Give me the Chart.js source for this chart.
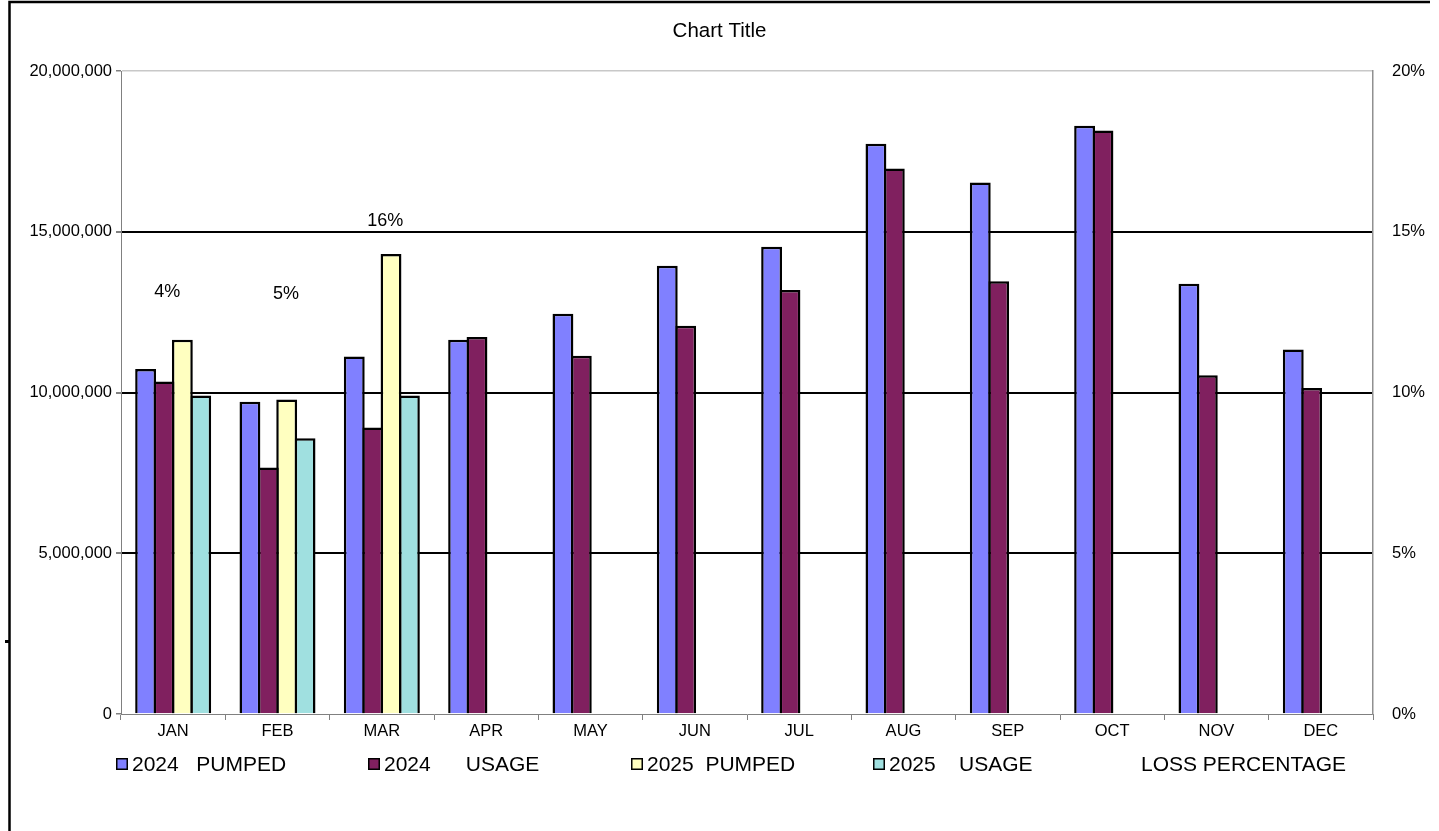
<!DOCTYPE html>
<html>
<head>
<meta charset="utf-8">
<title>Pumped vs Usage</title>
<script src="https://cdn.jsdelivr.net/npm/chart.js@4.4.1/dist/chart.umd.min.js"></script>
<style>
  html, body { margin: 0; padding: 0; background: #ffffff; }
  #wrap { width: 1439px; height: 831px; position: relative; }
</style>
</head>
<body>
<div id="wrap"><canvas id="c" width="1439" height="831"></canvas></div>
<script>
// Monthly volumes (gallons) and loss percentage labels
const months = ['JAN', 'FEB', 'MAR', 'APR', 'MAY', 'JUN', 'JUL', 'AUG', 'SEP', 'OCT', 'NOV', 'DEC'];
const pumped2024 = [10730000, 9710000, 11120000, 11640000, 12450000, 13940000, 14530000, 17740000, 16530000, 18300000, 13380000, 11340000];
const usage2024  = [10340000, 7670000, 8910000, 11730000, 11140000, 12080000, 13190000, 16970000, 13460000, 18150000, 10540000, 10140000];
const pumped2025 = [11640000, 9780000, 14310000, null, null, null, null, null, null, null, null, null];
const usage2025  = [9910000, 8580000, 9910000, null, null, null, null, null, null, null, null, null];
const lossPct    = [4, 5, 16, null, null, null, null, null, null, null, null, null];
const seriesNames = ['2024   PUMPED', '2024      USAGE', '2025  PUMPED', '2025    USAGE', 'LOSS PERCENTAGE'];

const FONT = '"Liberation Sans", Arial, Helvetica, sans-serif';
Chart.defaults.font.family = FONT;
Chart.defaults.color = '#000000';

// Frame around the whole chart object
const framePlugin = {
  id: 'frame',
  beforeDraw(chart) {
    const ctx = chart.ctx;
    ctx.save();
    ctx.fillStyle = '#ffffff';
    ctx.fillRect(0, 0, chart.width, chart.height);
    ctx.strokeStyle = '#000000';
    ctx.lineWidth = 2.5;
    ctx.beginPath();
    ctx.moveTo(9.5, chart.height);
    ctx.lineTo(9.5, 2);
    ctx.lineTo(1430, 2);
    ctx.stroke();
    ctx.fillStyle = '#000000';
    ctx.fillRect(5, 640, 4, 3);
    ctx.restore();
  }
};

// Title centred over the whole object
const titlePlugin = {
  id: 'topTitle',
  afterDraw(chart, args, opts) {
    const ctx = chart.ctx;
    ctx.save();
    ctx.font = opts.size + 'px ' + FONT;
    ctx.fillStyle = '#000000';
    ctx.textAlign = 'center';
    ctx.textBaseline = 'middle';
    ctx.fillText(opts.text, chart.width / 2, opts.y);
    ctx.restore();
  }
};

// Loss percentage labels, placed relative to their (invisible) points
const lossLabelPlugin = {
  id: 'lossLabels',
  afterDatasetsDraw(chart, args, opts) {
    const idx = chart.data.datasets.findIndex(d => d.type === 'line');
    if (idx < 0) return;
    const meta = chart.getDatasetMeta(idx);
    const data = chart.data.datasets[idx].data;
    const ctx = chart.ctx;
    ctx.save();
    ctx.font = opts.size + 'px ' + FONT;
    ctx.fillStyle = '#000000';
    ctx.textAlign = 'center';
    ctx.textBaseline = 'middle';
    meta.data.forEach((pt, i) => {
      if (data[i] == null) return;
      const off = opts.offsets[i] || [0, 0];
      ctx.fillText(data[i] + '%', pt.x + off[0], pt.y + off[1]);
    });
    ctx.restore();
  }
};

// Legend row in fixed columns
const legendRowPlugin = {
  id: 'legendRow',
  afterDraw(chart, args, opts) {
    const ctx = chart.ctx;
    ctx.save();
    ctx.font = opts.size + 'px ' + FONT;
    ctx.textBaseline = 'middle';
    ctx.textAlign = 'left';
    chart.data.datasets.forEach((ds, i) => {
      const x = opts.columns[i];
      const y = opts.y;
      let tx = x;
      if (ds.type !== 'line') {
        const s = opts.box;
        ctx.fillStyle = ds.backgroundColor;
        ctx.fillRect(x, y - s / 2, s, s);
        ctx.strokeStyle = '#000000';
        ctx.lineWidth = 1.5;
        ctx.strokeRect(x + 0.75, y - s / 2 + 0.75, s - 1.5, s - 1.5);
        tx = x + s + 4;
      }
      ctx.fillStyle = '#000000';
      ctx.fillText(ds.label, tx, y + 1);
    });
    ctx.restore();
  }
};

// Neighbouring bars overlap by their border width so they share one outline
const barBorder = { top: 2.5, left: 2.5, right: 2.5, bottom: 0 };

new Chart(document.getElementById('c'), {
  data: {
    labels: months,
    datasets: [
      { type: 'bar', label: seriesNames[0], data: pumped2024, backgroundColor: '#8080FF', borderColor: '#000000', borderWidth: barBorder, yAxisID: 'y' },
      { type: 'bar', label: seriesNames[1], data: usage2024,  backgroundColor: '#80205F', borderColor: '#000000', borderWidth: barBorder, yAxisID: 'y' },
      { type: 'bar', label: seriesNames[2], data: pumped2025, backgroundColor: '#FFFFC0', borderColor: '#000000', borderWidth: barBorder, yAxisID: 'y' },
      { type: 'bar', label: seriesNames[3], data: usage2025,  backgroundColor: '#A0E0E0', borderColor: '#000000', borderWidth: barBorder, yAxisID: 'y' },
      { type: 'line', label: seriesNames[4], data: lossPct, yAxisID: 'y1', showLine: false, pointRadius: 0, pointHoverRadius: 0, borderColor: 'rgba(0,0,0,0)', backgroundColor: 'rgba(0,0,0,0)' }
    ]
  },
  options: {
    responsive: false,
    devicePixelRatio: 1,
    animation: false,
    events: [],
    layout: { padding: { top: 71, left: 0, right: 0, bottom: 0 } },
    datasets: {
      bar: { categoryPercentage: 0.7045, barPercentage: 1.136 }
    },
    plugins: {
      legend: { display: false },
      title: { display: false },
      tooltip: { enabled: false },
      topTitle: { text: 'Chart Title', size: 20.5, y: 31 },
      lossLabels: { size: 18, offsets: [[-6, -293], [8.5, -259], [3.5, 21.5]] },
      legendRow: { size: 21, y: 764, box: 12, columns: [116, 368, 631, 873, 1141] }
    },
    scales: {
      x: {
        type: 'category',
        offset: true,
        grid: { display: true, offset: true, drawOnChartArea: false, drawTicks: true, tickLength: 6, color: '#808080', tickColor: '#808080' },
        border: { display: true, color: '#808080', width: 1 },
        ticks: { font: { size: 16.5 }, color: '#000000', padding: 2, maxRotation: 0, autoSkip: false },
        afterFit(scale) { scale.height = 117; }
      },
      y: {
        type: 'linear',
        position: 'left',
        min: 0,
        max: 20000000,
        ticks: {
          stepSize: 5000000,
          font: { size: 16.5 },
          color: '#000000',
          padding: 4,
          callback: v => Number(v).toLocaleString('en-US')
        },
        grid: {
          drawTicks: true,
          tickLength: 5,
          tickColor: '#808080',
          color: c => (c.tick && c.tick.value === 0) ? 'rgba(0,0,0,0)' : (c.tick && c.tick.value === 20000000 ? '#c8c8c8' : '#000000'),
          lineWidth: c => (c.tick && (c.tick.value === 0 || c.tick.value === 20000000)) ? 1.5 : 2
        },
        border: { display: true, color: '#808080', width: 1 },
        afterFit(scale) { scale.width = 121; }
      },
      y1: {
        type: 'linear',
        position: 'right',
        min: 0,
        max: 20,
        ticks: {
          stepSize: 5,
          font: { size: 16.5 },
          color: '#000000',
          padding: 19,
          callback: v => v + '%'
        },
        grid: { drawOnChartArea: false, drawTicks: false },
        border: { display: true, color: '#909090', width: 1.5 },
        afterFit(scale) { scale.width = 66; }
      }
    }
  },
  plugins: [framePlugin, titlePlugin, lossLabelPlugin, legendRowPlugin]
});
</script>
</body>
</html>
